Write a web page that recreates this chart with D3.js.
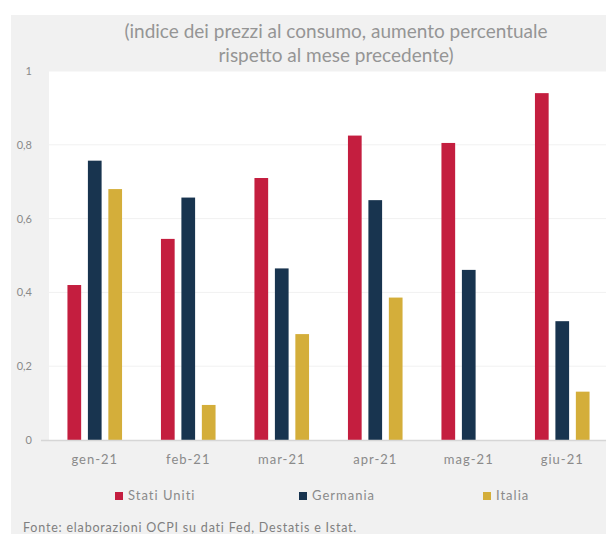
<!DOCTYPE html>
<html>
<head>
<meta charset="utf-8">
<script src="https://cdn.jsdelivr.net/npm/d3@7"></script>
<style>
  body { margin: 0; background: #fff; }
  svg { display: block; font-family: Lato, "Open Sans", sans-serif; }
</style>
</head>
<body>
<svg id="chart"></svg>
<script>
const width = 606;
const height = 534;

const months = ["gen-21", "feb-21", "mar-21", "apr-21", "mag-21", "giu-21"];
const seriesNames = ["Stati Uniti", "Germania", "Italia"];
const statiUniti = [0.42, 0.545, 0.71, 0.825, 0.805, 0.94];
const germania = [0.757, 0.657, 0.465, 0.65, 0.461, 0.322];
const italia = [0.68, 0.095, 0.287, 0.386, 0, 0.131];
const yTicks = [0, 0.2, 0.4, 0.6, 0.8, 1];
const colors = ["#c41e3f", "#18344f", "#d4ae3a"];

const values = [statiUniti, germania, italia];

const svg = d3.select("#chart")
    .attr("width", width)
    .attr("height", height);

// grey panel and white plot area
svg.append("rect")
    .attr("x", 11).attr("y", 15)
    .attr("width", width - 11).attr("height", height - 15)
    .attr("fill", "#f1f1f1");

const plotLeft = 49;
const x = d3.scaleBand()
    .domain(months)
    .range([48, 609])
    .paddingInner(0)
    .paddingOuter(0);

const x1 = d3.scaleBand()
    .domain(seriesNames)
    .range([-27.3, 27.3])
    .paddingInner(0.33);

const y = d3.scaleLinear()
    .domain([0, 1])
    .range([440, 71]);

svg.append("rect")
    .attr("x", plotLeft).attr("y", y(1))
    .attr("width", width - plotLeft).attr("height", y(0) - y(1))
    .attr("fill", "#ffffff");

// gridlines
svg.append("g")
    .selectAll("line")
    .data(yTicks.filter(d => d > 0))
    .enter()
    .append("line")
    .attr("x1", plotLeft).attr("x2", width)
    .attr("y1", d => y(d)).attr("y2", d => y(d))
    .attr("stroke", "#f1f1f1")
    .attr("stroke-width", 1);

// y axis labels
const fmt = d => d3.format("")(d).replace(".", ",");
svg.append("g")
    .attr("transform", `translate(32,0)`)
    .call(d3.axisLeft(y).tickValues(yTicks).tickFormat(fmt).tickSize(0).tickPadding(0))
    .call(g => g.select(".domain").remove())
    .call(g => g.selectAll("text")
        .attr("fill", "#8a8a8a")
        .style("font-size", "11px")
        .style("font-family", "Lato, sans-serif"));

// bars
const groups = svg.append("g")
    .selectAll("g")
    .data(months.map((m, i) => ({ month: m, vals: values.map((v, s) => ({ name: seriesNames[s], value: v[i], color: colors[s] })) })))
    .enter()
    .append("g")
    .attr("transform", d => `translate(${x(d.month) + x.bandwidth() / 2},0)`);

groups.selectAll("rect")
    .data(d => d.vals)
    .enter()
    .append("rect")
    .attr("x", d => x1(d.name))
    .attr("width", x1.bandwidth())
    .attr("y", d => y(d.value))
    .attr("height", d => y(0) - y(d.value))
    .attr("fill", d => d.color);

// baseline
svg.append("line")
    .attr("x1", plotLeft - 8).attr("x2", width)
    .attr("y1", y(0) + 0.5).attr("y2", y(0) + 0.5)
    .attr("stroke", "#d6d6d6")
    .attr("stroke-width", 1.5);

// x axis labels
svg.append("g")
    .attr("transform", `translate(0,${y(0)})`)
    .call(d3.axisBottom(x).tickSize(0).tickPadding(15))
    .call(g => g.select(".domain").remove())
    .call(g => g.selectAll("text")
        .attr("fill", "#8a8a8a")
        .style("font-size", "13px")
        .style("letter-spacing", "1px")
        .style("font-family", "Lato, sans-serif"));

// title
svg.append("text")
    .attr("x", 336).attr("y", 38)
    .attr("text-anchor", "middle")
    .attr("fill", "#959595")
    .style("font-size", "19px")
    .text("(indice dei prezzi al consumo, aumento percentuale");

svg.append("text")
    .attr("x", 336).attr("y", 62)
    .attr("text-anchor", "middle")
    .attr("fill", "#959595")
    .style("font-size", "19px")
    .text("rispetto al mese precedente)");

// legend
const legendX = [115, 299, 483];
const legend = svg.append("g")
    .selectAll("g")
    .data(seriesNames)
    .enter()
    .append("g")
    .attr("transform", (d, i) => `translate(${legendX[i]},492)`);

legend.append("rect")
    .attr("width", 8).attr("height", 8)
    .attr("fill", (d, i) => colors[i]);

legend.append("text")
    .attr("x", 13).attr("y", 8)
    .attr("fill", "#8a8a8a")
    .style("font-size", "13px")
    .style("letter-spacing", "1px")
    .text(d => d);

// source
svg.append("text")
    .attr("x", 23).attr("y", 532)
    .attr("fill", "#808080")
    .style("font-size", "12.5px")
    .style("letter-spacing", "0.8px")
    .text("Fonte: elaborazioni OCPI su dati Fed, Destatis e Istat.");
</script>
</body>
</html>
